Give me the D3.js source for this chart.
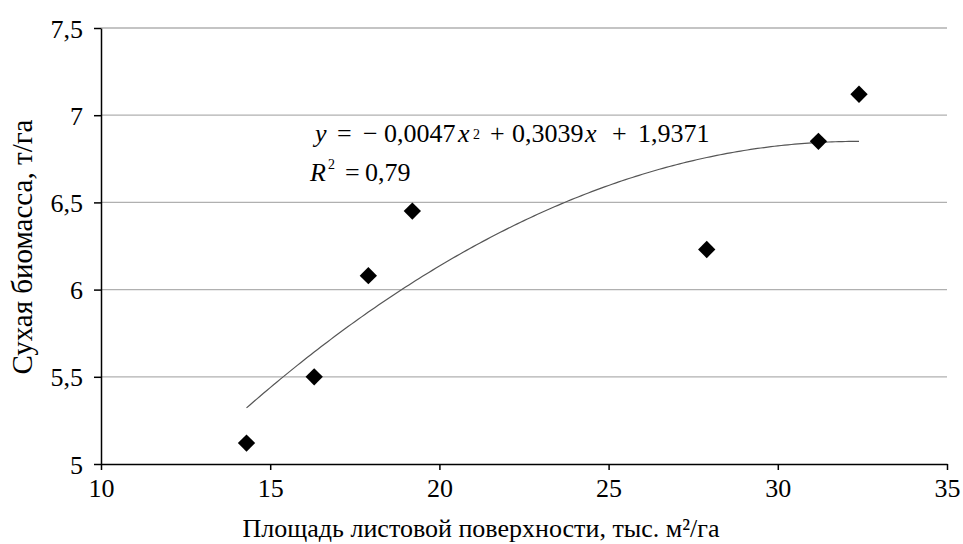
<!DOCTYPE html>
<html>
<head>
<meta charset="utf-8">
<script src="https://cdn.jsdelivr.net/npm/d3@7"></script>
<style>
  body { margin: 0; background: #fff; }
</style>
</head>
<body>
<svg id="chart" width="963" height="544" font-family="Liberation Serif"></svg>
<script>
// leaf area (thousand m2/ha) vs dry biomass (t/ha)
const leafArea = [14.3, 16.3, 17.9, 19.2, 27.9, 31.2, 32.4];
const biomass = [5.12, 5.5, 6.08, 6.45, 6.23, 6.85, 7.12];
const xTicks = [10, 15, 20, 25, 30, 35];
const yTicks = [5, 5.5, 6, 6.5, 7, 7.5];
// polynomial trend coefficients (a*x^2 + b*x + c)
const trendCoef = [-0.0047, 0.3039, 1.9371];

const FONT = "Liberation Serif";

const svg = d3.select("#chart");
const margin = {left: 101, right: 16, top: 28, bottom: 80};
const W = 963, H = 544;

const x = d3.scaleLinear().domain([10, 35]).range([margin.left, W - margin.right]);
const y = d3.scaleLinear().domain([5, 7.5]).range([H - margin.bottom, margin.top]);

const fmt = d => String(d).replace(".", ",");

// gridlines
svg.append("g").selectAll("line")
    .data(yTicks.filter(d => d > 5))
    .join("line")
    .attr("x1", x(10)).attr("x2", x(35))
    .attr("y1", d => y(d)).attr("y2", d => y(d))
    .attr("stroke", "#b0b0b0").attr("stroke-width", 1.3);

// axes
let yAxis = svg.append("g")
    .attr("transform", `translate(${x(10)},0)`)
    .call(d3.axisLeft(y).tickValues(yTicks).tickFormat(fmt).tickSize(7).tickSizeOuter(0));
let xAxis = svg.append("g")
    .attr("transform", `translate(0,${y(5)})`)
    .call(d3.axisBottom(x).tickValues(xTicks).tickSize(6).tickSizeOuter(0));

[yAxis, xAxis].forEach(g => {
    g.attr("font-family", FONT).attr("font-size", 26);
    g.select(".domain").attr("stroke", "#000").attr("stroke-width", 1.5);
    g.selectAll(".tick line").attr("stroke", "#000").attr("stroke-width", 1.5);
    g.selectAll(".tick text").attr("fill", "#000");
});
yAxis.selectAll(".tick text").attr("x", -18).attr("dy", "0.35em");
xAxis.selectAll(".tick text").attr("y", 12).attr("dy", "0.8em");

// trend line
let trend = x0 => trendCoef[0] * x0 * x0 + trendCoef[1] * x0 + trendCoef[2];
let xs = d3.range(d3.min(leafArea), d3.max(leafArea) + 0.001, 0.1);
svg.append("path")
    .datum(xs)
    .attr("d", d3.line().x(d => x(d)).y(d => y(trend(d))))
    .attr("fill", "none").attr("stroke", "#555").attr("stroke-width", 1.2);

// points
svg.append("g").selectAll("path")
    .data(leafArea.map((v, i) => [v, biomass[i]]))
    .join("path")
    .attr("d", d3.symbol(d3.symbolSquare, 150))
    .attr("transform", d => `translate(${x(d[0])},${y(d[1])}) rotate(45)`)
    .attr("fill", "#000");

// equation, pieces placed like in the source figure
const eqParts = [
    {t: "y", x: 315, it: true}, {t: "=", x: 337}, {t: "\u2212", x: 363},
    {t: "0,0047", x: 384}, {t: "x", x: 458, it: true}, {t: "2", x: 473, sup: 3},
    {t: "+", x: 490}, {t: "0,3039", x: 512}, {t: "x", x: 585, it: true},
    {t: "+", x: 612}, {t: "1,9371", x: 638}
];
const r2Parts = [
    {t: "R", x: 310, it: true}, {t: "2", x: 328, sup: 12},
    {t: "=", x: 345}, {t: "0,79", x: 365}
];
function drawParts(parts, baseline) {
    svg.append("g").selectAll("text").data(parts).join("text")
        .attr("x", d => d.x)
        .attr("y", d => d.sup ? baseline - d.sup : baseline)
        .attr("font-family", FONT)
        .attr("font-size", d => d.sup ? 14 : 26)
        .attr("font-style", d => d.it ? "italic" : null)
        .attr("fill", "#000")
        .text(d => d.t);
}
drawParts(eqParts, 142);
drawParts(r2Parts, 181);

// axis titles
svg.append("text")
    .attr("transform", "translate(32,247) rotate(-90)")
    .attr("text-anchor", "middle")
    .attr("font-family", FONT).attr("font-size", 29)
    .text("Сухая биомасса, т/га");

svg.append("text")
    .attr("x", 481).attr("y", 537)
    .attr("text-anchor", "middle")
    .attr("font-family", FONT).attr("font-size", 26)
    .text("Площадь листовой поверхности, тыс. м²/га");
</script>
</body>
</html>
